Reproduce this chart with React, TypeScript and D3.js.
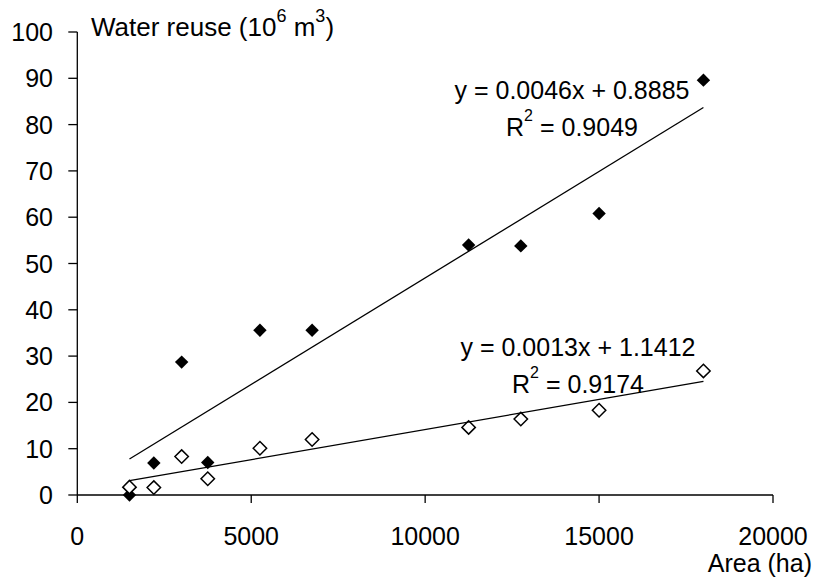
import React from "react";
import * as d3 from "d3";

const areas = [1500, 2200, 3000, 3750, 5250, 6750, 11250, 12750, 15000, 18000];
const reuseFilled = [0, 6.9, 28.7, 7.0, 35.6, 35.6, 54.0, 53.8, 60.8, 89.6];
const reuseOpen = [1.7, 1.6, 8.3, 3.5, 10.1, 12.0, 14.6, 16.4, 18.3, 26.8];
const xTicks = [0, 5000, 10000, 15000, 20000];
const yTicks = [0, 10, 20, 30, 40, 50, 60, 70, 80, 90, 100];
const trendFilled = [0.0046, 0.8885];
const trendOpen = [0.0013, 1.1412];
const eqFilled = ["y = 0.0046x + 0.8885", "0.9049"];
const eqOpen = ["y = 0.0013x + 1.1412", "0.9174"];

const W = 815;
const H = 584;
const FONT = "Arial, 'Liberation Sans', sans-serif";
const FS = 25;
const SUP = 16;
const SUPUP = 15;

export default function App() {
  const x = d3.scaleLinear().domain([0, 20000]).range([77.3, 773]);
  const y = d3.scaleLinear().domain([0, 100]).range([495, 32]);
  const [x0, x1] = d3.extent(areas) as [number, number];
  const trendPath = (c: number[]) =>
    d3
      .line<number>()
      .x((d) => x(d))
      .y((d) => y(c[0] * d + c[1]))([x0, x1]) as string;
  const diamond = d3.symbol(d3.symbolDiamond2, 115)() as string;

  return (
    <svg
      width={W}
      height={H}
      style={{ position: "absolute", left: 0, top: 0, background: "#fff" }}
      fontFamily={FONT}
      fontSize={FS}
    >
      <rect width={W} height={H} fill="#fff" />
      {/* axes */}
      <line x1={x(0)} x2={x(20000)} y1={y(0)} y2={y(0)} stroke="#000" strokeWidth={1.3} />
      <line x1={x(0)} x2={x(0)} y1={y(0)} y2={y(100)} stroke="#000" strokeWidth={1.3} />
      {yTicks.map((t) => (
        <g key={"y" + t}>
          <line x1={x(0) - 9} x2={x(0)} y1={y(t)} y2={y(t)} stroke="#000" strokeWidth={1.3} />
          <text x={53} y={y(t)} dy="0.36em" textAnchor="end" fill="#000">
            {t}
          </text>
        </g>
      ))}
      {xTicks.map((t) => (
        <g key={"x" + t}>
          <line x1={x(t)} x2={x(t)} y1={y(0)} y2={y(0) + 8} stroke="#000" strokeWidth={1.3} />
          <text x={x(t)} y={545} textAnchor="middle" fill="#000">
            {t}
          </text>
        </g>
      ))}
      <text x={812} y={572} textAnchor="end" fill="#000">
        Area (ha)
      </text>
      <text x={91} y={36} fill="#000" fontSize={26}>
        Water reuse (10
        <tspan fontSize={18} dy={-14}>6</tspan>
        <tspan dy={14}> m</tspan>
        <tspan fontSize={18} dy={-14}>3</tspan>
        <tspan dy={14}>)</tspan>
      </text>

      {/* markers */}
      {areas.map((a, i) => (
        <path
          key={"f" + i}
          d={diamond}
          transform={`translate(${x(a)},${y(reuseFilled[i])})`}
          fill="#000"
        />
      ))}
      {areas.map((a, i) => (
        <path
          key={"o" + i}
          d={diamond}
          transform={`translate(${x(a)},${y(reuseOpen[i])})`}
          fill="#fff"
          stroke="#000"
          strokeWidth={1.5}
        />
      ))}

      {/* trend lines */}
      <path d={trendPath(trendFilled)} fill="none" stroke="#000" strokeWidth={1.3} />
      <path d={trendPath(trendOpen)} fill="none" stroke="#000" strokeWidth={1.3} />

      {/* equations */}
      <text x={572} y={99} textAnchor="middle" fill="#000">
        {eqFilled[0]}
      </text>
      <text x={572} y={136} textAnchor="middle" fill="#000">
        R<tspan fontSize={SUP} dy={-SUPUP}>2</tspan>
        <tspan dy={SUPUP}> = {eqFilled[1]}</tspan>
      </text>
      <text x={578} y={356} textAnchor="middle" fill="#000">
        {eqOpen[0]}
      </text>
      <text x={578} y={393} textAnchor="middle" fill="#000">
        R<tspan fontSize={SUP} dy={-SUPUP}>2</tspan>
        <tspan dy={SUPUP}> = {eqOpen[1]}</tspan>
      </text>
    </svg>
  );
}
